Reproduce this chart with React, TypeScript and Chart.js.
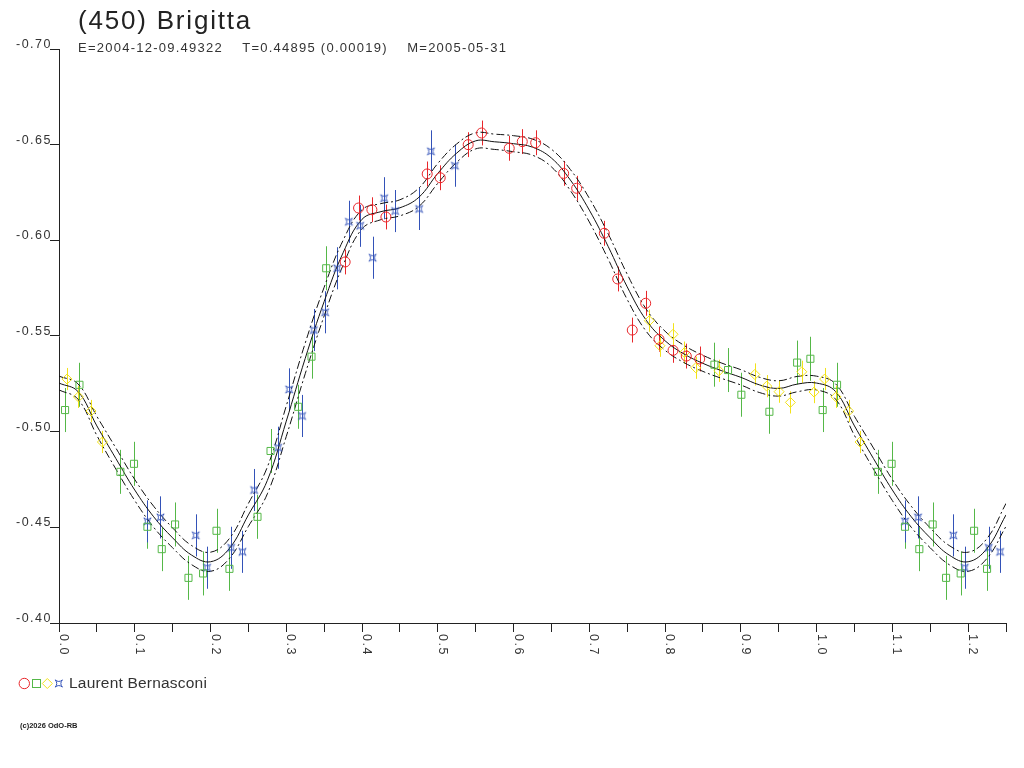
import { useEffect, useRef } from 'react';
import { Chart, registerables } from 'chart.js';

Chart.register(...registerables);

// Fitted light curve, every 0.025 in phase (one rotation)
const curvePhase = [
  0, 0.025, 0.05, 0.075, 0.1, 0.125, 0.15, 0.175, 0.2, 0.225,
  0.25, 0.275, 0.3, 0.325, 0.35, 0.375, 0.4, 0.425, 0.45, 0.475,
  0.5, 0.525, 0.55, 0.575, 0.6, 0.625, 0.65, 0.675, 0.7, 0.725,
  0.75, 0.775, 0.8, 0.825, 0.85, 0.875, 0.9, 0.925, 0.95, 0.975, 1.0,
];
const curveMid = [
  -0.5254, -0.521, -0.503, -0.486, -0.4695, -0.4555, -0.4445, -0.4355, -0.432, -0.439,
  -0.4565, -0.4745, -0.5055, -0.5383, -0.568, -0.5935, -0.611, -0.615, -0.617, -0.6225,
  -0.635, -0.6456, -0.652, -0.6515, -0.6505, -0.6487, -0.643, -0.6315, -0.6158, -0.5967,
  -0.5757, -0.5583, -0.5475, -0.5406, -0.5357, -0.5318, -0.5284, -0.5244, -0.5226, -0.5249, -0.5254,
];
const curveUpper = [
  -0.529, -0.525, -0.508, -0.4915, -0.475, -0.461, -0.4497, -0.4405, -0.437, -0.4442,
  -0.4625, -0.4815, -0.5135, -0.5463, -0.5755, -0.6, -0.616, -0.6192, -0.6212, -0.6273,
  -0.6402, -0.6504, -0.6562, -0.6555, -0.6547, -0.6529, -0.6476, -0.637, -0.622, -0.6033,
  -0.5823, -0.5641, -0.5525, -0.5451, -0.5399, -0.5358, -0.5324, -0.5284, -0.5266, -0.5289, -0.529,
];
const curveLower = [
  -0.5218, -0.517, -0.498, -0.4805, -0.464, -0.45, -0.4393, -0.4305, -0.427, -0.4338,
  -0.4505, -0.4675, -0.4975, -0.5303, -0.5605, -0.587, -0.606, -0.6108, -0.6128, -0.6177,
  -0.6298, -0.6408, -0.6478, -0.6475, -0.6463, -0.6445, -0.6384, -0.626, -0.6096, -0.5901,
  -0.5691, -0.5525, -0.5425, -0.5361, -0.5315, -0.5278, -0.5244, -0.5204, -0.5186, -0.5209, -0.5218,
];

// Observations [phase, mag], one array per session symbol
const redObs: [number, number][] = [
  [0.3777, -0.5887], [0.3954, -0.6169], [0.413, -0.616], [0.4315, -0.6122],
  [0.486, -0.6347], [0.5032, -0.6327], [0.5401, -0.65], [0.5578, -0.6561],
  [0.5943, -0.6481], [0.6115, -0.6516], [0.6292, -0.651], [0.6661, -0.635],
  [0.6833, -0.6272], [0.7198, -0.6037], [0.7375, -0.5798], [0.7567, -0.5531],
  [0.7744, -0.5671], [0.792, -0.5483], [0.8105, -0.5425], [0.828, -0.5395],
  [0.8457, -0.538],
];
const greenObs: [number, number][] = [
  [0.008, -0.5113], [0.027, -0.5245], [0.081, -0.479], [0.099, -0.4832],
  [0.1167, -0.4503], [0.1356, -0.4386], [0.1532, -0.4515], [0.1709, -0.4236],
  [0.1902, -0.4259], [0.2079, -0.4482], [0.225, -0.4283], [0.262, -0.4555],
  [0.2792, -0.4899], [0.3157, -0.513], [0.3333, -0.5392], [0.3527, -0.5854],
  [0.8651, -0.535], [0.8831, -0.5322], [0.9007, -0.5193], [0.9377, -0.5104],
  [0.9743, -0.5361], [0.9918, -0.5381],
];
const yellowObs: [number, number][] = [
  [0.0106, -0.5275], [0.0256, -0.5182], [0.0423, -0.5108], [0.0573, -0.4946],
  [0.7792, -0.558], [0.7933, -0.5449], [0.8105, -0.5509], [0.8255, -0.5413],
  [0.8405, -0.5334], [0.8712, -0.5318], [0.9184, -0.5299], [0.9342, -0.5238],
  [0.9505, -0.5209], [0.9654, -0.5153], [0.9805, -0.5313], [0.9967, -0.5207],
];
const blueObs: [number, number][] = [
  [0.1167, -0.4531], [0.1339, -0.4552], [0.1805, -0.4458], [0.1955, -0.4289],
  [0.2272, -0.4393], [0.2422, -0.4372], [0.2576, -0.4695], [0.2893, -0.4916],
  [0.3038, -0.5221], [0.3209, -0.5082], [0.3364, -0.5531], [0.3513, -0.5624],
  [0.3672, -0.5854], [0.3826, -0.6097], [0.3975, -0.6076], [0.4139, -0.5909],
  [0.4292, -0.622], [0.4437, -0.6153], [0.4754, -0.6164], [0.4909, -0.6465],
  [0.5226, -0.639],
];

// half length of the error bars, mag
const redErr = 0.0065;
const greenErr = 0.0115;
const yellowErr = 0.0058;
const blueErr = 0.011;

const xTickLabels = ['0.0', '0.1', '0.2', '0.3', '0.4', '0.5', '0.6', '0.7', '0.8', '0.9', '1.0', '1.1', '1.2'];
const yTickValues = [-0.7, -0.65, -0.6, -0.55, -0.5, -0.45, -0.4];

const titleText = '(450) Brigitta';
const subtitleText = 'E=2004-12-09.49322    T=0.44895 (0.00019)    M=2005-05-31';
const observerName = 'Laurent Bernasconi';
const footerText = '(c)2026 OdO-RB';

const RED = '#e8262a';
const GREEN = '#55b848';
const YELLOW = '#f2e21a';
const BLUE = '#3352b8';
const INK = '#222';
const FONT = '"Liberation Sans", Arial, sans-serif';
const PHASE_END = 1.25;

// repeat the start of the rotation past phase 1, as the plot does
function foldObs(obs: [number, number][]) {
  const pts = obs.map(([p, m]) => ({ x: p, y: m }));
  obs.forEach(([p, m]) => {
    if (p + 1 <= PHASE_END) pts.push({ x: p + 1, y: m });
  });
  return pts;
}

function foldCurve(values: number[]) {
  const pts = curvePhase.map((p, i) => ({ x: p, y: values[i] }));
  curvePhase.forEach((p, i) => {
    if (p > 0 && p + 1 <= PHASE_END + 1e-9) pts.push({ x: p + 1, y: values[i] });
  });
  return pts;
}

function starMarker() {
  const c = document.createElement('canvas');
  c.width = 11;
  c.height = 11;
  const g = c.getContext('2d');
  if (g) {
    const s = 3.6;
    const k = 0.15 * s;
    g.translate(5.5, 5.5);
    g.strokeStyle = BLUE;
    g.lineWidth = 1;
    g.beginPath();
    g.moveTo(-s, -s);
    g.quadraticCurveTo(0, -k, s, -s);
    g.quadraticCurveTo(k, 0, s, s);
    g.quadraticCurveTo(0, k, -s, s);
    g.quadraticCurveTo(-k, 0, -s, -s);
    g.stroke();
  }
  return c;
}

const errorBars = {
  id: 'errorBars',
  beforeDatasetsDraw(chart: any) {
    const { ctx, scales } = chart;
    ctx.save();
    ctx.lineWidth = 1;
    chart.data.datasets.forEach((ds: any) => {
      if (!ds.errBar) return;
      ctx.strokeStyle = ds.borderColor;
      ds.data.forEach((pt: any) => {
        const px = Math.round(scales.x.getPixelForValue(pt.x)) + 0.5;
        ctx.beginPath();
        ctx.moveTo(px, scales.y.getPixelForValue(pt.y - ds.errBar));
        ctx.lineTo(px, scales.y.getPixelForValue(pt.y + ds.errBar));
        ctx.stroke();
      });
    });
    ctx.restore();
  },
};

// tick labels: y labels sit on top of their tick, x labels run downwards
const axisLabels = {
  id: 'axisLabels',
  afterDraw(chart: any) {
    const { ctx, scales, chartArea } = chart;
    ctx.save();
    ctx.fillStyle = '#333';
    ctx.font = `12.5px ${FONT}`;
    ctx.letterSpacing = '1.5px';
    ctx.textAlign = 'right';
    ctx.textBaseline = 'alphabetic';
    yTickValues.forEach((v) => {
      const py = scales.y.getPixelForValue(v);
      ctx.fillText(v.toFixed(2), 52, py - 1);
    });
    ctx.textAlign = 'left';
    xTickLabels.forEach((label) => {
      const px = scales.x.getPixelForValue(parseFloat(label));
      ctx.save();
      ctx.translate(px + 1, chartArea.bottom + 11);
      ctx.rotate(Math.PI / 2);
      ctx.fillText(label, 0, 0);
      ctx.restore();
    });
    ctx.restore();
  },
};

function obsDataset(obs: [number, number][], color: string, style: any, radius: number, err: number) {
  return {
    data: foldObs(obs),
    borderColor: color,
    backgroundColor: 'rgba(0,0,0,0)',
    borderWidth: 1,
    pointStyle: style,
    pointRadius: radius,
    showLine: false,
    errBar: err,
  };
}

function curveDataset(values: number[], dash: number[]) {
  return {
    data: foldCurve(values),
    showLine: true,
    borderColor: '#111',
    borderWidth: 1,
    borderDash: dash,
    pointRadius: 0,
    tension: 0.4,
    fill: false,
  };
}

export default function App() {
  const canvasRef = useRef<HTMLCanvasElement>(null);
  const chartRef = useRef<Chart | null>(null);

  useEffect(() => {
    if (!canvasRef.current) return;
    if (chartRef.current) chartRef.current.destroy();

    chartRef.current = new Chart(canvasRef.current, {
      type: 'scatter',
      data: {
        datasets: [
          obsDataset(redObs, RED, 'circle', 5, redErr),
          obsDataset(greenObs, GREEN, 'rect', 5, greenErr),
          obsDataset(yellowObs, YELLOW, 'rectRot', 5, yellowErr),
          obsDataset(blueObs, BLUE, starMarker(), 5, blueErr),
          curveDataset(curveMid, []),
          curveDataset(curveUpper, [8, 3, 2, 3]),
          curveDataset(curveLower, [8, 3, 2, 3]),
        ] as any,
      },
      options: {
        animation: false,
        responsive: false,
        events: [],
        layout: { padding: { left: 0, top: 49, right: 18, bottom: 105 } },
        plugins: {
          legend: { display: false },
          tooltip: { enabled: false },
          title: { display: false },
        },
        scales: {
          x: {
            type: 'linear',
            min: 0,
            max: PHASE_END,
            afterFit: (scale: any) => {
              scale.height = 40;
            },
            ticks: {
              stepSize: 0.05,
              maxTicksLimit: 40,
              autoSkip: false,
              maxRotation: 0,
              callback: () => '',
            },
            grid: { drawOnChartArea: false, drawTicks: true, tickLength: 9, color: INK },
            border: { display: true, color: INK, width: 1 },
          },
          y: {
            type: 'linear',
            min: -0.7,
            max: -0.4,
            reverse: true,
            afterFit: (scale: any) => {
              scale.width = 59;
            },
            ticks: {
              stepSize: 0.05,
              callback: () => '',
            },
            grid: { drawOnChartArea: false, drawTicks: true, tickLength: 9, color: INK },
            border: { display: true, color: INK, width: 1 },
          },
        },
      },
      plugins: [errorBars, axisLabels],
    });

    return () => {
      if (chartRef.current) {
        chartRef.current.destroy();
        chartRef.current = null;
      }
    };
  }, []);

  return (
    <div
      style={{
        position: 'fixed',
        left: 0,
        top: 0,
        width: 1024,
        height: 768,
        background: '#fff',
        fontFamily: FONT,
        color: INK,
      }}
    >
      <canvas ref={canvasRef} width={1024} height={768} style={{ position: 'absolute', left: 0, top: 0 }} />
      <div style={{ position: 'absolute', left: 78, top: 7, fontSize: 26, lineHeight: 1, letterSpacing: '1.8px', whiteSpace: 'nowrap' }}>
        {titleText}
      </div>
      <div style={{ position: 'absolute', left: 78, top: 41, fontSize: 13, lineHeight: 1, letterSpacing: '1.25px', whiteSpace: 'pre', color: '#333' }}>
        {subtitleText}
      </div>
      <svg style={{ position: 'absolute', left: 16, top: 676 }} width={52} height={16}>
        <circle cx={8.3} cy={7.5} r={5.2} fill="none" stroke={RED} />
        <rect x={16.5} y={3.5} width={8} height={8} fill="none" stroke={GREEN} />
        <path d="M26.3 7.5 L31.3 2.5 L36.3 7.5 L31.3 12.5 Z" fill="none" stroke={YELLOW} />
        <path d="M39.2 3.9 Q42.8 7 46.4 3.9 Q43.3 7.5 46.4 11.1 Q42.8 8 39.2 11.1 Q42.3 7.5 39.2 3.9 Z" fill="none" stroke={BLUE} />
      </svg>
      <div style={{ position: 'absolute', left: 69, top: 675, fontSize: 15.5, lineHeight: 1, letterSpacing: '0.2px', whiteSpace: 'nowrap', color: '#333' }}>
        {observerName}
      </div>
      <div style={{ position: 'absolute', left: 20, top: 722, fontSize: 7.5, fontWeight: 'bold', lineHeight: 1, whiteSpace: 'nowrap', color: '#222' }}>
        {footerText}
      </div>
    </div>
  );
}
